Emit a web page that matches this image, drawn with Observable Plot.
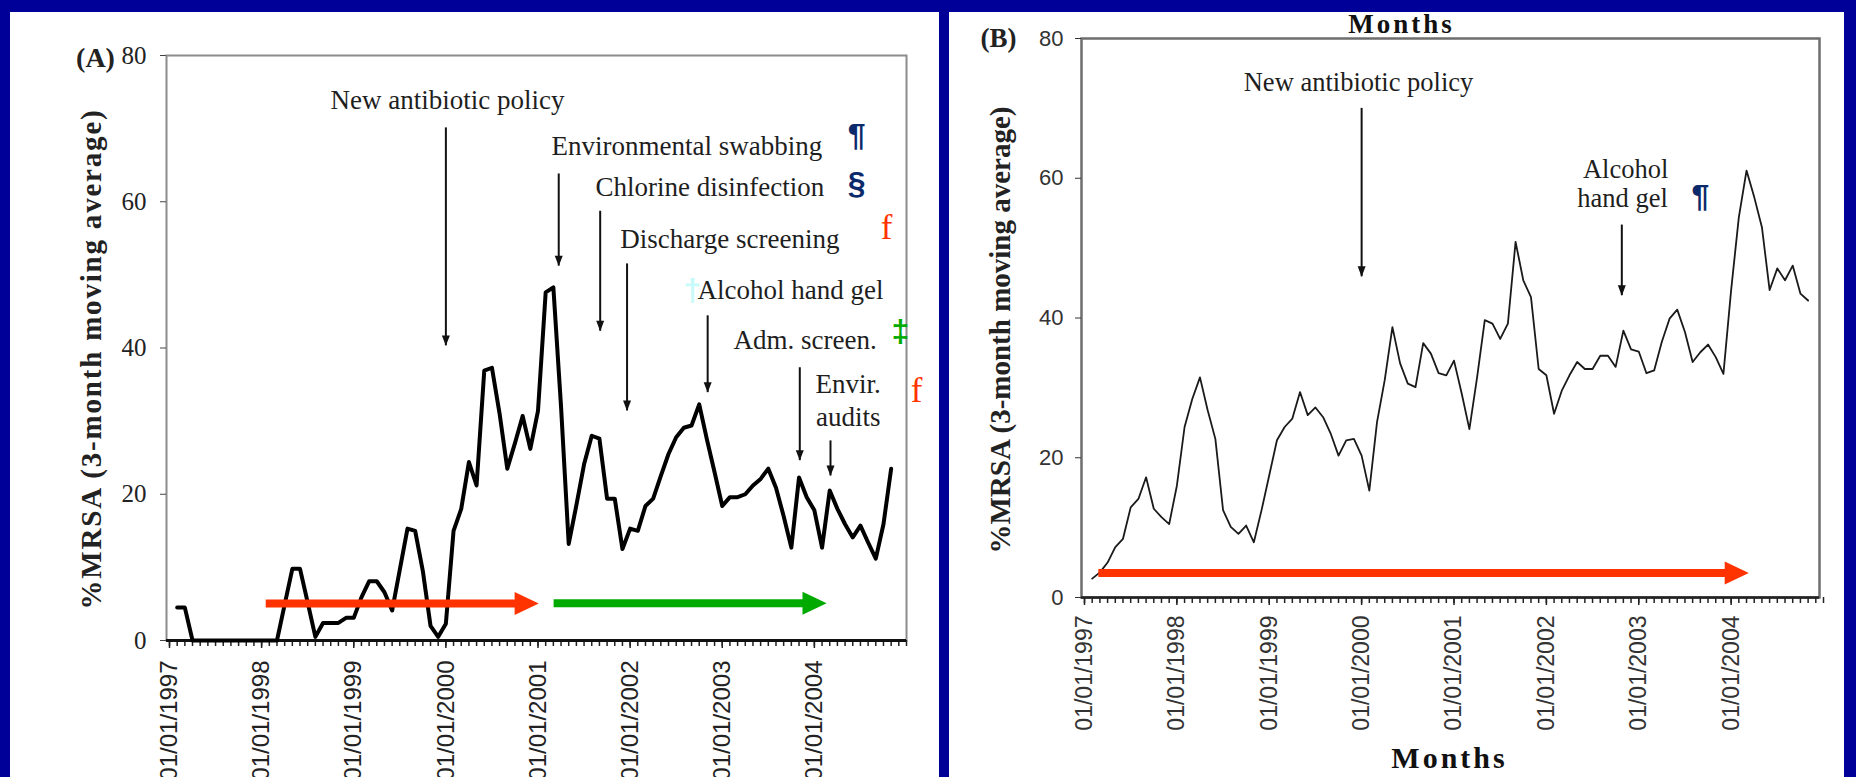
<!DOCTYPE html>
<html>
<head>
<meta charset="utf-8">
<script src="https://cdn.jsdelivr.net/npm/d3@7"></script>
<script src="https://cdn.jsdelivr.net/npm/@observablehq/plot@0.6"></script>
<style>
html, body { margin: 0; padding: 0; background: #000099; width: 1856px; height: 777px; overflow: hidden; }
.panel { position: absolute; background: #ffffff; overflow: hidden; }
#pa { left: 10px; top: 12px; width: 929px; height: 765px; }
#pb { left: 949px; top: 12px; width: 895px; height: 765px; }
.panel svg { position: absolute; left: 0; top: 0; overflow: visible; }
</style>
</head>
<body>
<div id="pa" class="panel"></div>
<div id="pb" class="panel"></div>
<script>
// ---------- data (month 0 = January 1997) ----------
const monthsA = d3.range(1, 95);
const valuesA = [
  4.5, 4.5, 0, 0, 0, 0, 0, 0, 0, 0, 0, 0, 0, 0, 4.9, 9.8, 9.8, 5.2, 0.5, 2.4,
  2.4, 2.4, 3.1, 3.1, 5.9, 8.1, 8.1, 6.6, 4.1, 9.7, 15.3, 15.0, 9.5, 2.0, 0.5, 2.3,
  15.0, 18.0, 24.4, 21.2, 36.9, 37.3, 31.0, 23.5, 27.0, 30.7, 26.2, 31.4, 47.6, 48.3,
  32.0, 13.2, 18.5, 24.1, 28.0, 27.6, 19.4, 19.4, 12.5, 15.3, 15.0, 18.4, 19.4, 22.5,
  25.5, 27.8, 29.1, 29.4, 32.3, 27.5, 23.0, 18.4, 19.6, 19.6, 20.0, 21.2, 22.1, 23.5,
  20.9, 17.0, 12.7, 22.3, 19.6, 17.8, 12.7, 20.5, 18.0, 15.9, 14.1, 15.7, 13.4, 11.2,
  15.9, 23.5
];
const monthsB = d3.range(1, 95);
const valuesB = [
  2.7, 3.6, 5.0, 7.2, 8.4, 12.9, 14.1, 17.2, 12.7, 11.5, 10.5, 16.0, 24.4, 28.4, 31.5,
  26.8, 22.7, 12.5, 10.1, 9.1, 10.3, 7.9, 12.5, 17.5, 22.5, 24.4, 25.6, 29.4, 26.1, 27.2,
  25.8, 23.4, 20.3, 22.5, 22.7, 20.3, 15.3, 25.1, 31.1, 38.7, 33.5, 30.6, 30.1, 36.4,
  34.9, 32.1, 31.8, 33.9, 29.2, 24.1, 31.5, 39.7, 39.2, 37.0, 39.2, 50.9, 45.4, 43.0,
  32.7, 31.8, 26.3, 29.6, 31.8, 33.7, 32.7, 32.7, 34.6, 34.6, 33.0, 38.2, 35.5, 35.2,
  32.1, 32.5, 36.6, 39.9, 41.2, 38.0, 33.7, 35.1, 36.2, 34.4, 32.0, 44.0, 54.4, 61.1,
  57.3, 53.0, 44.0, 47.1, 45.4, 47.5, 43.5, 42.5
];
const yearTicks = [0, 12, 24, 36, 48, 60, 72, 84];
const tickLabels = ["01/01/1997", "01/01/1998", "01/01/1999", "01/01/2000",
                    "01/01/2001", "01/01/2002", "01/01/2003", "01/01/2004"];
const monthTicks = d3.range(0, 97);
const yTicks = [0, 20, 40, 60, 80];
const yTitle = "%MRSA (3-month moving average)";

// annotations, panel A
const notesA = [
  {label: "New antibiotic policy", month: 36.2, value: 73.9},
  {label: "Environmental swabbing", month: 67.4, value: 67.6},
  {label: "Chlorine disinfection", month: 70.4, value: 61.9},
  {label: "Discharge screening", month: 73.0, value: 54.8},
  {label: "Alcohol hand gel", month: 80.9, value: 47.9},
  {label: "Adm. screen.", month: 82.8, value: 41.1},
  {label: "Envir.", month: 88.4, value: 35.0},
  {label: "audits", month: 88.4, value: 30.5}
];
const pointersA = [
  {month: 36.0, from: 70.1, to: 40.3},
  {month: 50.7, from: 63.8, to: 51.2},
  {month: 56.1, from: 58.7, to: 42.3},
  {month: 59.6, from: 51.5, to: 31.4},
  {month: 70.1, from: 44.4, to: 33.9},
  {month: 82.1, from: 37.3, to: 24.6},
  {month: 86.1, from: 27.3, to: 22.5}
];
const signsA = [
  {sign: "¶", month: 89.5, value: 69.0, color: "#0b2a6b", font: "sans"},
  {sign: "§", month: 89.5, value: 62.4, color: "#0b2a6b", font: "sans"},
  {sign: "f", month: 93.4, value: 56.4, color: "#ff3300", font: "serif"},
  {sign: "†", month: 68.1, value: 47.8, color: "#c8fafa", font: "sans"},
  {sign: "‡", month: 95.2, value: 42.2, color: "#00aa00", font: "sans"},
  {sign: "f", month: 97.3, value: 34.2, color: "#ff3300", font: "serif"}
];
const periodsA = [
  {from: 12.6, to: 48.1, value: 5.05, color: "#ff3300"},
  {from: 50.1, to: 85.6, value: 5.1, color: "#00aa00"}
];

// annotations, panel B
const notesB = [
  {label: "New antibiotic policy", month: 35.6, value: 73.7},
  {label: "Alcohol", month: 70.3, value: 61.3},
  {label: "hand gel", month: 69.9, value: 57.1}
];
const pointersB = [
  {month: 36.0, from: 70.0, to: 45.9},
  {month: 69.8, from: 53.3, to: 43.2}
];
const signsB = [
  {sign: "¶", month: 80.0, value: 57.4, color: "#0b2a6b", font: "sans"}
];
const periodsB = [
  {from: 1.86, to: 86.3, value: 3.5, color: "#ff3300"}
];

// ---------- helpers ----------
const serif = "'Liberation Serif', 'Times New Roman', serif";
const sans = "'Liberation Sans', Arial, sans-serif";

function head(dir, ratio) {
  return {draw(ctx, size) {
    const r = Math.sqrt(size / Math.PI), L = ratio * r;
    ctx.moveTo(0, 0);
    if (dir === "down") { ctx.lineTo(-r, -L); ctx.lineTo(r, -L); }
    else { ctx.lineTo(-L, -r); ctx.lineTo(-L, r); }
    ctx.closePath();
  }};
}
const headDown = head("down", 2.6);
const headRight = head("right", 2.1);

function signMarks(signs, size) {
  return [
    Plot.text(signs.filter(d => d.font === "sans"), {x: "month", y: "value", text: "sign", fill: "color",
      fontFamily: sans, fontWeight: "bold", fontSize: size}),
    Plot.text(signs.filter(d => d.font === "serif"), {x: "month", y: "value", text: "sign", fill: "color",
      fontFamily: serif, fontSize: size + 3})
  ];
}

function periodMarks(periods, barBack, headR) {
  return [
    Plot.ruleY(periods, {y: "value", x1: "from", x2: d => d.to - barBack, stroke: "color", strokeWidth: 8}),
    Plot.dot(periods, {x: "to", y: "value", symbol: headRight, r: headR, fill: "color", stroke: "none"})
  ];
}

function pointerMarks(pointers) {
  return [
    Plot.ruleX(pointers, {x: "month", y1: "from", y2: "to", stroke: "#111", strokeWidth: 2}),
    Plot.dot(pointers, {x: "month", y: "to", symbol: headDown, r: 4, fill: "#111", stroke: "none"})
  ];
}

function spacing(svg, content, px) {
  d3.select(svg).selectAll("text").filter(function() { return this.textContent === content; })
    .attr("letter-spacing", px);
}

// ---------- panel A ----------
const dataA = monthsA.map((m, i) => ({month: m, value: valuesA[i]}));
const chartA = Plot.plot({
  width: 929, height: 765,
  marginLeft: 156, marginRight: 33, marginTop: 43, marginBottom: 137,
  x: {domain: [0, 96], range: [159, 896]},
  y: {domain: [0, 80]},
  color: {type: "identity"},
  style: {background: "transparent", color: "#222", overflow: "visible"},
  marks: [
    Plot.frame({stroke: "#8c8c8c", strokeWidth: 2}),
    Plot.axisY({ticks: yTicks, tickSize: 6, tickPadding: 14, fontFamily: serif, fontSize: 25,
      stroke: "#444", label: null}),
    Plot.axisX({ticks: monthTicks, tickSize: 6, fill: "none", stroke: "#222", strokeWidth: 1.5, label: null}),
    Plot.axisX({ticks: yearTicks, tickSize: 8, tickPadding: 12, tickRotate: -90,
      tickFormat: d => tickLabels[yearTicks.indexOf(d)], fontFamily: sans, fontSize: 24,
      textAnchor: "end", stroke: "#222", strokeWidth: 1.5, label: null}),
    Plot.ruleY([0], {stroke: "#111", strokeWidth: 3}),
    Plot.line(dataA, {x: "month", y: "value", stroke: "#000", strokeWidth: 4, strokeLinejoin: "round"}),
    ...periodMarks(periodsA, 2, 11.5),
    ...pointerMarks(pointersA),
    Plot.text(notesA, {x: "month", y: "value", text: "label", fontFamily: serif, fontSize: 27, fill: "#1e1e1e"}),
    ...signMarks(signsA, 32),
    Plot.text(["(A)"], {frameAnchor: "top-left", dx: -71, dy: 3, textAnchor: "middle", lineAnchor: "middle",
      fontFamily: serif, fontWeight: "bold", fontSize: 28, fill: "#222"}),
    Plot.text([yTitle], {frameAnchor: "left", dx: -75, dy: 11, rotate: -90, textAnchor: "middle",
      lineAnchor: "middle", fontFamily: serif, fontWeight: "bold", fontSize: 29, fill: "#222"})
  ]
});
document.getElementById("pa").appendChild(chartA);
spacing(chartA, yTitle, 1.8);

// ---------- panel B ----------
const dataB = monthsB.map((m, i) => ({month: m, value: valuesB[i]}));
const chartB = Plot.plot({
  width: 895, height: 765,
  marginLeft: 132, marginRight: 25, marginTop: 26, marginBottom: 180,
  x: {domain: [0, 96], range: [135, 874]},
  y: {domain: [0, 80]},
  color: {type: "identity"},
  style: {background: "transparent", color: "#222", overflow: "visible"},
  marks: [
    Plot.frame({stroke: "#6e6e6e", strokeWidth: 2.5}),
    Plot.axisY({ticks: yTicks, tickSize: 6, tickPadding: 12, fontFamily: sans, fontSize: 22,
      stroke: "#333", fill: "#333", label: null}),
    Plot.axisX({ticks: monthTicks, tickSize: 6, fill: "none", stroke: "#222", strokeWidth: 1.5, label: null}),
    Plot.axisX({ticks: yearTicks, tickSize: 8, tickPadding: 10, tickRotate: -90,
      tickFormat: d => tickLabels[yearTicks.indexOf(d)], fontFamily: sans, fontSize: 23,
      textAnchor: "end", stroke: "#222", strokeWidth: 1.5, fill: "#333", label: null}),
    Plot.ruleY([0], {stroke: "#222", strokeWidth: 2.5}),
    Plot.line(dataB, {x: "month", y: "value", stroke: "#1a1a1a", strokeWidth: 1.8, strokeLinejoin: "round"}),
    ...periodMarks(periodsB, 2, 11.5),
    ...pointerMarks(pointersB),
    Plot.text(notesB, {x: "month", y: "value", text: "label", fontFamily: serif, fontSize: 26.5, fill: "#1e1e1e"}),
    ...signMarks(signsB, 32),
    Plot.text(["(B)"], {frameAnchor: "top-left", dx: -83, dy: 0, textAnchor: "middle", lineAnchor: "middle",
      fontFamily: serif, fontWeight: "bold", fontSize: 27, fill: "#222"}),
    Plot.text([yTitle], {frameAnchor: "left", dx: -81, dy: 12, rotate: -90, textAnchor: "middle",
      lineAnchor: "middle", fontFamily: serif, fontWeight: "bold", fontSize: 29, fill: "#222"}),
    Plot.text(["Months"], {frameAnchor: "top", dx: -49, dy: -6, textAnchor: "middle", lineAnchor: "bottom",
      fontFamily: serif, fontWeight: "bold", fontSize: 27, fill: "#111"}),
    Plot.text(["Months"], {frameAnchor: "bottom", dx: -1, dy: 161, textAnchor: "middle", lineAnchor: "middle",
      fontFamily: serif, fontWeight: "bold", fontSize: 30, fill: "#111"})
  ]
});
document.getElementById("pb").appendChild(chartB);
spacing(chartB, "Months", 3);
</script>
</body>
</html>
